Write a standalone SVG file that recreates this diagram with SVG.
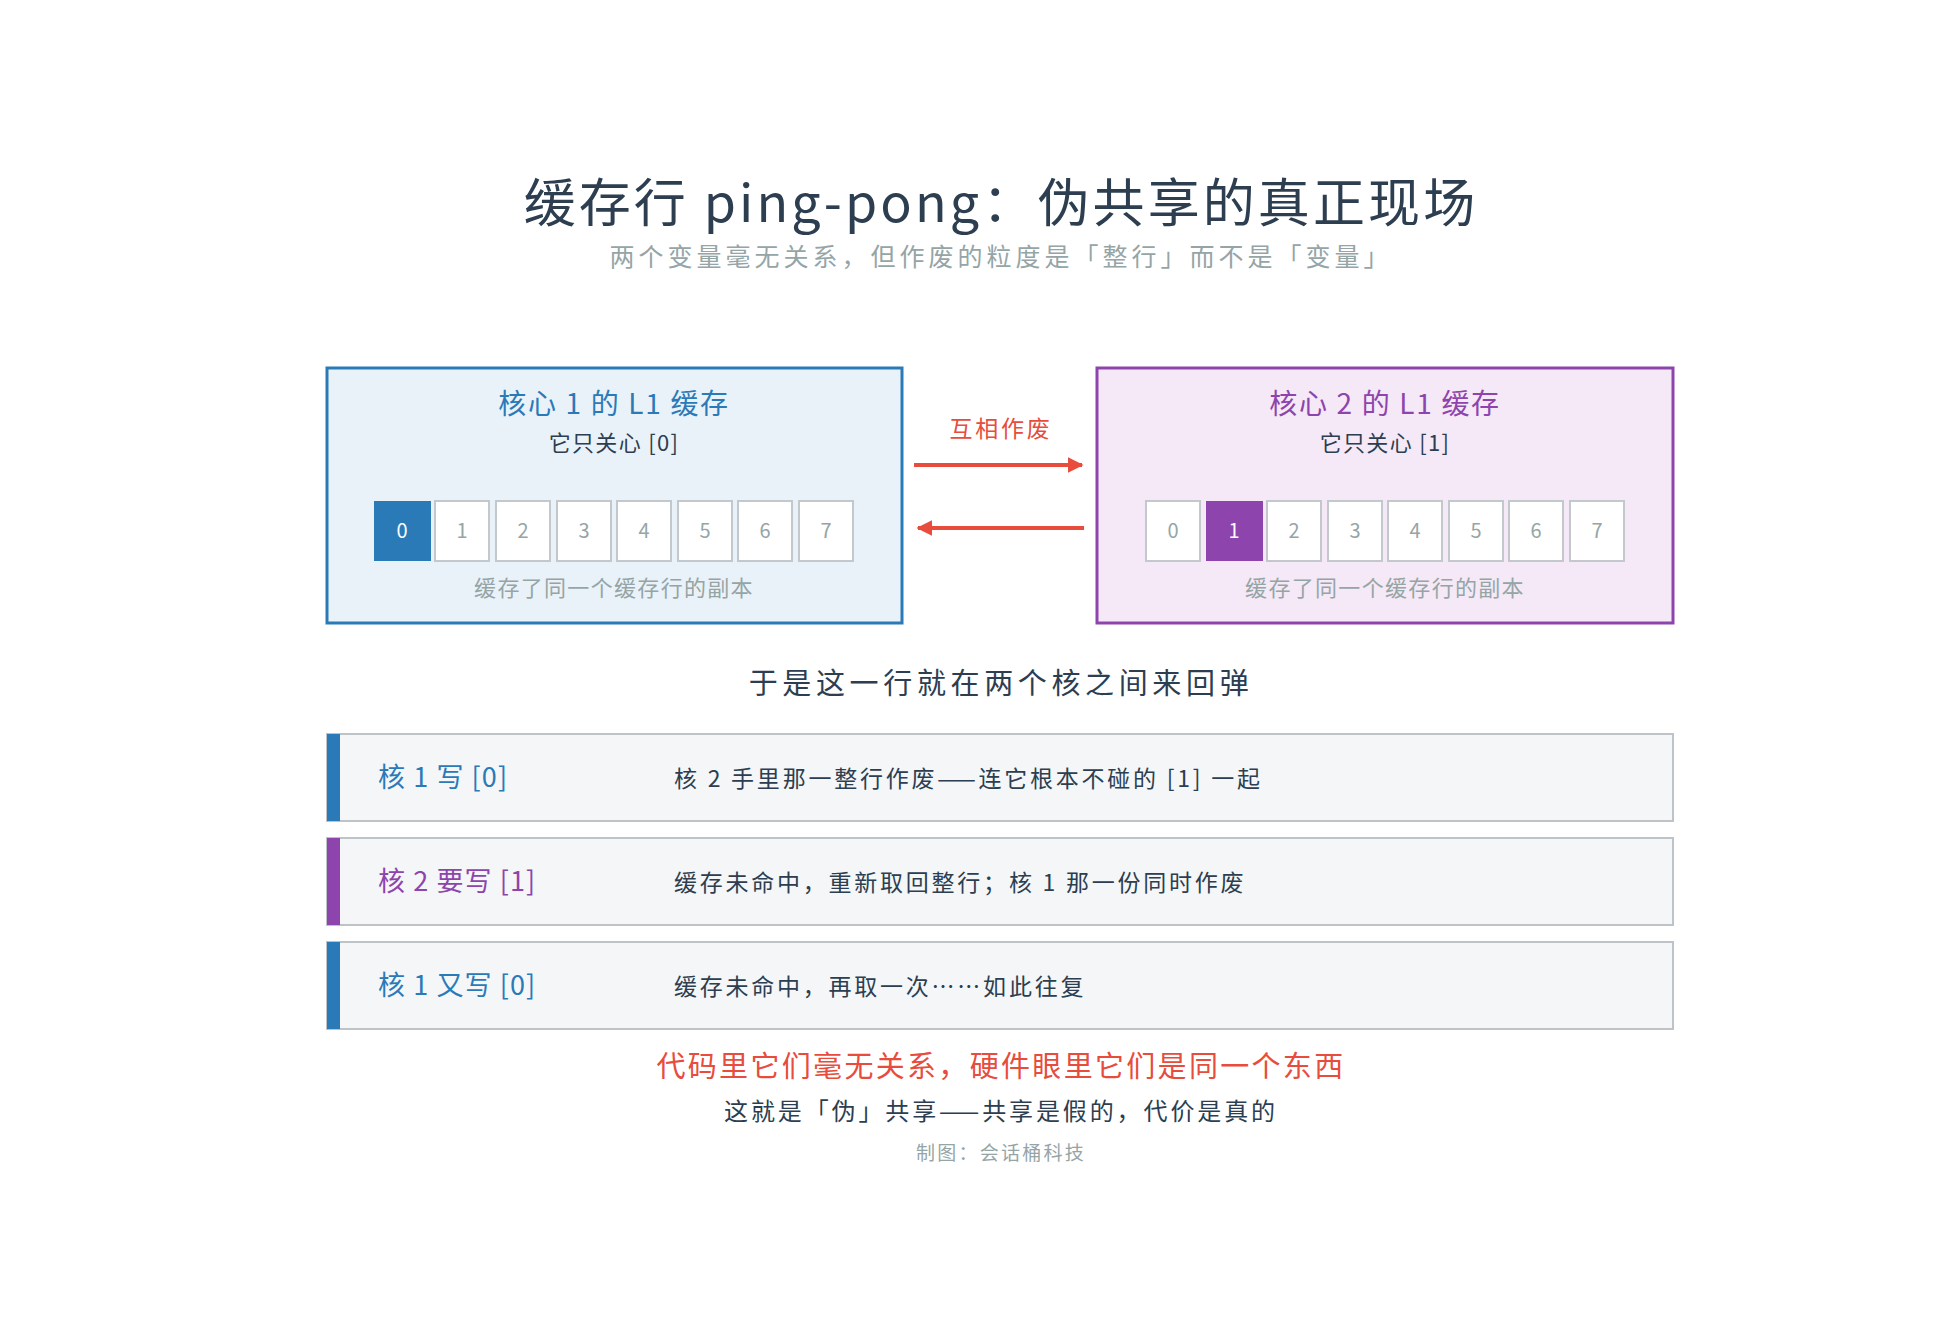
<svg xmlns="http://www.w3.org/2000/svg" width="1950" height="1320" viewBox="0 0 1950 1320">
<defs>
<marker id="ah" viewBox="0 0 10 10" refX="9" refY="5" markerWidth="4" markerHeight="4" orient="auto-start-reverse"><path d="M0,0L10,5L0,10z" fill="#e74c3c"/></marker>
<style>
text{font-family:"Noto Sans CJK SC","Noto Sans",sans-serif;text-anchor:middle;letter-spacing:0.12em}
.cell{fill:#fff;stroke:#c3c8cc;stroke-width:2}
.cn{font-size:20px;fill:#95a5a6;letter-spacing:0}
.cap{font-size:22px;fill:#95a5a6;letter-spacing:0.06em}
.row{fill:#f4f6f8;stroke:#bdc3c7;stroke-width:2}
.lab{font-size:27px;text-anchor:start;letter-spacing:0.04em}
.desc{font-size:23px;fill:#2c3e50;text-anchor:start}
</style>
</defs>
<rect width="1950" height="1320" fill="#fff"/>
<g id="title">
<text x="1001" y="222" font-size="52" fill="#2c3e50" style="letter-spacing:0.06em">缓存行 ping-pong：伪共享的真正现场</text>
<text x="1001" y="266" font-size="25" fill="#95a5a6" style="letter-spacing:0.16em">两个变量毫无关系，但作废的粒度是「整行」而不是「变量」</text>
</g>
<g id="core1">
<rect x="327" y="368" width="575" height="255" fill="#eaf2f9" stroke="#2a7ab8" stroke-width="3"/>
<text x="614" y="414" font-size="28" fill="#2a7ab8" style="letter-spacing:0.06em">核心 1 的 L1 缓存</text>
<text x="614" y="451" font-size="22" fill="#2c3e50" style="letter-spacing:0.06em">它只关心 [0]</text>
<rect x="374" y="501" width="57" height="60" fill="#2a7ab8"/>
<text x="402" y="538" class="cn" style="fill:#fff">0</text>
<rect class="cell" x="435" y="501" width="54" height="60"/><text class="cn" x="462" y="538">1</text>
<rect class="cell" x="496" y="501" width="54" height="60"/><text class="cn" x="523" y="538">2</text>
<rect class="cell" x="557" y="501" width="54" height="60"/><text class="cn" x="584" y="538">3</text>
<rect class="cell" x="617" y="501" width="54" height="60"/><text class="cn" x="644" y="538">4</text>
<rect class="cell" x="678" y="501" width="54" height="60"/><text class="cn" x="705" y="538">5</text>
<rect class="cell" x="738" y="501" width="54" height="60"/><text class="cn" x="765" y="538">6</text>
<rect class="cell" x="799" y="501" width="54" height="60"/><text class="cn" x="826" y="538">7</text>
<text class="cap" x="614" y="596">缓存了同一个缓存行的副本</text>
</g>
<g id="core2">
<rect x="1097" y="368" width="576" height="255" fill="#f5e9f7" stroke="#8e44ad" stroke-width="3"/>
<text x="1385" y="414" font-size="28" fill="#8e44ad" style="letter-spacing:0.06em">核心 2 的 L1 缓存</text>
<text x="1385" y="451" font-size="22" fill="#2c3e50" style="letter-spacing:0.06em">它只关心 [1]</text>
<rect class="cell" x="1146" y="501" width="54" height="60"/><text class="cn" x="1173" y="538">0</text>
<rect x="1206" y="501" width="57" height="60" fill="#8e44ad"/><text x="1234" y="538" class="cn" style="fill:#fff">1</text>
<rect class="cell" x="1267" y="501" width="54" height="60"/><text class="cn" x="1294" y="538">2</text>
<rect class="cell" x="1328" y="501" width="54" height="60"/><text class="cn" x="1355" y="538">3</text>
<rect class="cell" x="1388" y="501" width="54" height="60"/><text class="cn" x="1415" y="538">4</text>
<rect class="cell" x="1449" y="501" width="54" height="60"/><text class="cn" x="1476" y="538">5</text>
<rect class="cell" x="1509" y="501" width="54" height="60"/><text class="cn" x="1536" y="538">6</text>
<rect class="cell" x="1570" y="501" width="54" height="60"/><text class="cn" x="1597" y="538">7</text>
<text class="cap" x="1385" y="596">缓存了同一个缓存行的副本</text>
</g>
<g id="connectors">
<line x1="914" y1="465" x2="1082" y2="465" stroke="#e74c3c" stroke-width="4" marker-end="url(#ah)"/>
<line x1="1084" y1="528" x2="918" y2="528" stroke="#e74c3c" stroke-width="4" marker-end="url(#ah)"/>
<text x="1001" y="437" font-size="23" fill="#e74c3c">互相作废</text>
</g>
<g id="heading"><text x="1001" y="694" font-size="29" fill="#2c3e50" style="letter-spacing:0.16em">于是这一行就在两个核之间来回弹</text></g>
<g id="row1">
<rect class="row" x="327" y="734" width="1346" height="87"/><rect x="327" y="734" width="13" height="87" fill="#2a7ab8"/>
<text class="lab" x="378" y="787" fill="#2a7ab8">核 1 写 [0]</text>
<text class="desc" x="674" y="787">核 2 手里那一整行作废——连它根本不碰的 [1] 一起</text>
</g>
<g id="row2">
<rect class="row" x="327" y="838" width="1346" height="87"/><rect x="327" y="838" width="13" height="87" fill="#8e44ad"/>
<text class="lab" x="378" y="891" fill="#8e44ad">核 2 要写 [1]</text>
<text class="desc" x="674" y="891">缓存未命中，重新取回整行；核 1 那一份同时作废</text>
</g>
<g id="row3">
<rect class="row" x="327" y="942" width="1346" height="87"/><rect x="327" y="942" width="13" height="87" fill="#2a7ab8"/>
<text class="lab" x="378" y="995" fill="#2a7ab8">核 1 又写 [0]</text>
<text class="desc" x="674" y="995">缓存未命中，再取一次……如此往复</text>
</g>
<g id="footer">
<text x="1001" y="1077" font-size="29" fill="#e74c3c" style="letter-spacing:0.08em">代码里它们毫无关系，硬件眼里它们是同一个东西</text>
<text x="1001" y="1120" font-size="24" fill="#2c3e50">这就是「伪」共享——共享是假的，代价是真的</text>
<text x="1001" y="1160" font-size="19" fill="#95a5a6">制图：会话桶科技</text>
</g>
</svg>
